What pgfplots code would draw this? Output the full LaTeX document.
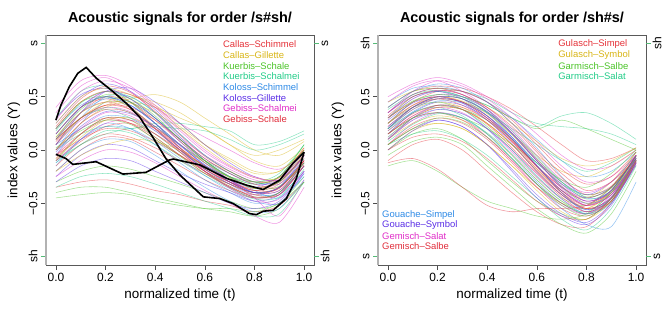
\documentclass[border=0pt]{standalone}
\usepackage{pgfplots}
\pgfplotsset{compat=1.18}
\usepackage{fontspec}
\setmainfont{Liberation Sans}
\usetikzlibrary{calc}
\definecolor{cA}{HTML}{E5333A}
\definecolor{cB}{HTML}{D8B516}
\definecolor{cC}{HTML}{4CC42A}
\definecolor{cD}{HTML}{22CC88}
\definecolor{cE}{HTML}{2E8AE6}
\definecolor{cF}{HTML}{5A2EE6}
\definecolor{cG}{HTML}{E02EC8}
\definecolor{cH}{HTML}{E02E3C}
\definecolor{tickgreen}{HTML}{55BB77}
\newcommand{\cv}[2]{\addplot[#1] coordinates {#2};}
\tikzset{leg/.style={anchor=west, font=\fontsize{9.5}{10}\selectfont, inner sep=0pt},
  ylab/.style={rotate=90, anchor=center, font=\fontsize{13.5}{14}\selectfont}}
\pgfplotsset{
  myax/.style={
    scale only axis, width=268bp, height=230bp,
    xmin=-0.04, xmax=1.04, ymin=-1.08, ymax=1.08,
    axis line style={draw=black!65, line width=0.8bp},
    tick align=outside, major tick length=5bp,
    xtick={0,0.2,0.4,0.6,0.8,1}, xticklabels={0.0,0.2,0.4,0.6,0.8,1.0},
    ytick={-0.5,0,0.5}, yticklabels={−0.5,0.0,0.5},
    tick style={black!70, line width=0.6bp},
    extra y tick style={tick style={color=tickgreen, line width=1bp}},
    ytick pos=left, xtick pos=bottom,
    ticklabel style={font=\fontsize{12}{12}\selectfont},
    yticklabel style={rotate=90, anchor=south},
    xlabel={normalized time (t)},
    label style={font=\fontsize{13.5}{14}\selectfont},
    title style={font=\bfseries\fontsize{14.5}{16}\selectfont, yshift=0bp},
    clip=false,
    every axis plot/.append style={line width=0.55bp, opacity=0.5, smooth, tension=0.5},
  }
}
\begin{document}
\begin{tikzpicture}
\path[use as bounding box] (0,0) rectangle (664bp,310bp);
% ---------------- left panel ----------------
\begin{axis}[myax, at={(46bp,45bp)}, anchor=south west,
  title={Acoustic signals for order /s\#sh/},
  extra y ticks={-1,1}, extra y tick labels={sh,s}]
\cv{cA}{(0,0.05)(0.1,0.35)(0.2,0.5)(0.3,0.45)(0.4,0.25)(0.5,0.02)(0.6,-0.18)(0.7,-0.3)(0.8,-0.38)(0.9,-0.3)(1,-0.05)}
\cv{cB}{(0,0.2)(0.1,0.45)(0.2,0.55)(0.3,0.52)(0.4,0.42)(0.5,0.25)(0.6,0.05)(0.7,-0.1)(0.8,-0.22)(0.9,-0.2)(1,0)}
\cv{cC}{(0,-0.1)(0.1,0.15)(0.2,0.3)(0.3,0.28)(0.4,0.12)(0.5,-0.05)(0.6,-0.2)(0.7,-0.32)(0.8,-0.4)(0.9,-0.35)(1,-0.1)}
\cv{cD}{(0,0.3)(0.1,0.55)(0.2,0.6)(0.3,0.45)(0.4,0.25)(0.5,0.05)(0.6,-0.1)(0.7,-0.22)(0.8,-0.3)(0.9,-0.22)(1,0.05)}
\cv{cE}{(0,-0.05)(0.1,0.25)(0.2,0.45)(0.3,0.42)(0.4,0.25)(0.5,0.02)(0.6,-0.2)(0.7,-0.35)(0.8,-0.45)(0.9,-0.4)(1,-0.15)}
\cv{cF}{(0,0.1)(0.1,0.4)(0.2,0.55)(0.3,0.48)(0.4,0.3)(0.5,0.08)(0.6,-0.12)(0.7,-0.28)(0.8,-0.35)(0.9,-0.25)(1,0)}
\cv{cG}{(0,0.35)(0.1,0.6)(0.2,0.68)(0.3,0.55)(0.4,0.35)(0.5,0.12)(0.6,-0.05)(0.7,-0.18)(0.8,-0.28)(0.9,-0.3)(1,-0.05)}
\cv{cH}{(0,-0.2)(0.1,0)(0.2,0.12)(0.3,0.1)(0.4,-0.02)(0.5,-0.15)(0.6,-0.28)(0.7,-0.38)(0.8,-0.45)(0.9,-0.4)(1,-0.15)}
\cv{cA}{(0,0.15)(0.1,0.4)(0.2,0.48)(0.3,0.4)(0.4,0.2)(0.5,-0.02)(0.6,-0.2)(0.7,-0.35)(0.8,-0.42)(0.9,-0.35)(1,-0.08)}
\cv{cB}{(0,0)(0.1,0.25)(0.2,0.4)(0.3,0.45)(0.4,0.4)(0.5,0.3)(0.6,0.2)(0.7,0.05)(0.8,-0.1)(0.9,-0.15)(1,0.02)}
\cv{cC}{(0,-0.3)(0.1,-0.2)(0.2,-0.15)(0.3,-0.18)(0.4,-0.25)(0.5,-0.32)(0.6,-0.4)(0.7,-0.48)(0.8,-0.55)(0.9,-0.5)(1,-0.25)}
\cv{cD}{(0,0.05)(0.1,0.3)(0.2,0.38)(0.3,0.3)(0.4,0.15)(0.5,-0.02)(0.6,-0.15)(0.7,-0.25)(0.8,-0.32)(0.9,-0.25)(1,0.05)}
\cv{cE}{(0,-0.15)(0.1,0.1)(0.2,0.25)(0.3,0.2)(0.4,0.05)(0.5,-0.12)(0.6,-0.28)(0.7,-0.4)(0.8,-0.5)(0.9,-0.45)(1,-0.2)}
\cv{cF}{(0,0.25)(0.1,0.5)(0.2,0.62)(0.3,0.55)(0.4,0.38)(0.5,0.15)(0.6,-0.05)(0.7,-0.2)(0.8,-0.3)(0.9,-0.32)(1,-0.1)}
\cv{cG}{(0,-0.05)(0.1,0.2)(0.2,0.35)(0.3,0.32)(0.4,0.18)(0.5,0)(0.6,-0.18)(0.7,-0.32)(0.8,-0.45)(0.9,-0.5)(1,-0.2)}
\cv{cH}{(0,0.1)(0.1,0.35)(0.2,0.45)(0.3,0.38)(0.4,0.2)(0.5,0)(0.6,-0.18)(0.7,-0.3)(0.8,-0.36)(0.9,-0.28)(1,0)}
\cv{cA}{(0,-0.35)(0.1,-0.3)(0.2,-0.28)(0.3,-0.32)(0.4,-0.38)(0.5,-0.42)(0.6,-0.48)(0.7,-0.52)(0.8,-0.58)(0.9,-0.52)(1,-0.3)}
\cv{cB}{(0,0.05)(0.1,0.3)(0.2,0.45)(0.3,0.5)(0.4,0.45)(0.5,0.35)(0.6,0.2)(0.7,0.05)(0.8,-0.05)(0.9,0)(1,0.1)}
\cv{cC}{(0,0.2)(0.1,0.45)(0.2,0.5)(0.3,0.4)(0.4,0.2)(0.5,0)(0.6,-0.15)(0.7,-0.25)(0.8,-0.3)(0.9,-0.25)(1,0)}
\cv{cD}{(0,-0.1)(0.1,0.05)(0.2,0.15)(0.3,0.2)(0.4,0.22)(0.5,0.2)(0.6,0.18)(0.7,0.1)(0.8,0)(0.9,0.05)(1,0.15)}
\cv{cE}{(0,0)(0.1,0.3)(0.2,0.5)(0.3,0.5)(0.4,0.35)(0.5,0.12)(0.6,-0.1)(0.7,-0.28)(0.8,-0.4)(0.9,-0.42)(1,-0.2)}
\cv{cF}{(0,-0.25)(0.1,-0.05)(0.2,0.05)(0.3,0.02)(0.4,-0.1)(0.5,-0.22)(0.6,-0.32)(0.7,-0.4)(0.8,-0.48)(0.9,-0.42)(1,-0.15)}
\cv{cG}{(0,0.15)(0.1,0.4)(0.2,0.55)(0.3,0.52)(0.4,0.4)(0.5,0.25)(0.6,0.12)(0.7,0)(0.8,-0.12)(0.9,-0.18)(1,-0.05)}
\cv{cH}{(0,0)(0.1,0.2)(0.2,0.3)(0.3,0.25)(0.4,0.1)(0.5,-0.05)(0.6,-0.2)(0.7,-0.32)(0.8,-0.4)(0.9,-0.35)(1,-0.12)}
\cv{cA}{(0,-0.05)(0.1,0.1)(0.2,0.2)(0.3,0.18)(0.4,0.08)(0.5,-0.05)(0.6,-0.18)(0.7,-0.3)(0.8,-0.38)(0.9,-0.36)(1,-0.1)}
\cv{cB}{(0,0.25)(0.1,0.5)(0.2,0.58)(0.3,0.52)(0.4,0.4)(0.5,0.22)(0.6,0.05)(0.7,-0.08)(0.8,-0.2)(0.9,-0.2)(1,0)}
\cv{cC}{(0,-0.4)(0.1,-0.35)(0.2,-0.35)(0.3,-0.4)(0.4,-0.45)(0.5,-0.5)(0.6,-0.55)(0.7,-0.58)(0.8,-0.62)(0.9,-0.55)(1,-0.3)}
\cv{cD}{(0,0.1)(0.1,0.3)(0.2,0.4)(0.3,0.35)(0.4,0.22)(0.5,0.05)(0.6,-0.12)(0.7,-0.25)(0.8,-0.35)(0.9,-0.3)(1,-0.05)}
\cv{cE}{(0,-0.2)(0.1,0)(0.2,0.1)(0.3,0.08)(0.4,-0.05)(0.5,-0.2)(0.6,-0.35)(0.7,-0.48)(0.8,-0.58)(0.9,-0.55)(1,-0.28)}
\cv{cF}{(0,0.05)(0.1,0.35)(0.2,0.55)(0.3,0.58)(0.4,0.45)(0.5,0.25)(0.6,0.05)(0.7,-0.12)(0.8,-0.25)(0.9,-0.28)(1,-0.05)}
\cv{cG}{(0,-0.1)(0.1,0.1)(0.2,0.25)(0.3,0.28)(0.4,0.2)(0.5,0.05)(0.6,-0.12)(0.7,-0.28)(0.8,-0.45)(0.9,-0.62)(1,-0.28)}
\cv{cH}{(0,0.2)(0.1,0.45)(0.2,0.55)(0.3,0.45)(0.4,0.28)(0.5,0.08)(0.6,-0.1)(0.7,-0.25)(0.8,-0.35)(0.9,-0.3)(1,-0.05)}
\cv{cA}{(0,-0.15)(0.1,0.05)(0.2,0.15)(0.3,0.12)(0.4,0.02)(0.5,-0.1)(0.6,-0.22)(0.7,-0.32)(0.8,-0.4)(0.9,-0.38)(1,-0.12)}
\cv{cB}{(0,0.1)(0.1,0.3)(0.2,0.42)(0.3,0.48)(0.4,0.52)(0.5,0.45)(0.6,0.3)(0.7,0.15)(0.8,0)(0.9,-0.05)(1,0.08)}
\cv{cC}{(0,-0.45)(0.1,-0.42)(0.2,-0.4)(0.3,-0.42)(0.4,-0.48)(0.5,-0.52)(0.6,-0.55)(0.7,-0.55)(0.8,-0.58)(0.9,-0.5)(1,-0.3)}
\cv{cD}{(0,0)(0.1,0.15)(0.2,0.22)(0.3,0.2)(0.4,0.25)(0.5,0.25)(0.6,0.22)(0.7,0.18)(0.8,0.05)(0.9,0.08)(1,0.18)}
\cv{cE}{(0,0.1)(0.1,0.35)(0.2,0.48)(0.3,0.45)(0.4,0.3)(0.5,0.1)(0.6,-0.1)(0.7,-0.25)(0.8,-0.38)(0.9,-0.45)(1,-0.25)}
\cv{cF}{(0,-0.3)(0.1,-0.15)(0.2,-0.08)(0.3,-0.1)(0.4,-0.2)(0.5,-0.3)(0.6,-0.4)(0.7,-0.5)(0.8,-0.55)(0.9,-0.48)(1,-0.22)}
\cv{cG}{(0,0.4)(0.1,0.65)(0.2,0.7)(0.3,0.6)(0.4,0.42)(0.5,0.2)(0.6,0)(0.7,-0.15)(0.8,-0.25)(0.9,-0.28)(1,-0.05)}
\cv{cH}{(0,-0.05)(0.1,0.15)(0.2,0.28)(0.3,0.25)(0.4,0.12)(0.5,-0.05)(0.6,-0.22)(0.7,-0.35)(0.8,-0.45)(0.9,-0.4)(1,-0.1)}
\cv{cA}{(0,0)(0.1,0.25)(0.2,0.38)(0.3,0.35)(0.4,0.2)(0.5,0.02)(0.6,-0.15)(0.7,-0.28)(0.8,-0.38)(0.9,-0.32)(1,-0.05)}
\cv{cB}{(0,-0.2)(0.1,-0.05)(0.2,0.05)(0.3,0.1)(0.4,0.08)(0.5,0)(0.6,-0.1)(0.7,-0.2)(0.8,-0.3)(0.9,-0.28)(1,-0.08)}
\cv{cC}{(0,0.15)(0.1,0.4)(0.2,0.5)(0.3,0.45)(0.4,0.3)(0.5,0.1)(0.6,-0.1)(0.7,-0.25)(0.8,-0.32)(0.9,-0.25)(1,0.05)}
\cv{cD}{(0,-0.35)(0.1,-0.25)(0.2,-0.22)(0.3,-0.25)(0.4,-0.32)(0.5,-0.4)(0.6,-0.48)(0.7,-0.55)(0.8,-0.62)(0.9,-0.6)(1,-0.3)}
\cv{cE}{(0,0.05)(0.1,0.2)(0.2,0.32)(0.3,0.3)(0.4,0.18)(0.5,0)(0.6,-0.18)(0.7,-0.32)(0.8,-0.42)(0.9,-0.4)(1,-0.15)}
\cv{cF}{(0,0.3)(0.1,0.52)(0.2,0.58)(0.3,0.48)(0.4,0.3)(0.5,0.1)(0.6,-0.08)(0.7,-0.22)(0.8,-0.32)(0.9,-0.28)(1,-0.02)}
\cv{cG}{(0,-0.25)(0.1,-0.1)(0.2,0)(0.3,-0.02)(0.4,-0.12)(0.5,-0.25)(0.6,-0.38)(0.7,-0.5)(0.8,-0.62)(0.9,-0.68)(1,-0.35)}
\cv{cH}{(0,0.1)(0.1,0.3)(0.2,0.42)(0.3,0.4)(0.4,0.28)(0.5,0.1)(0.6,-0.08)(0.7,-0.22)(0.8,-0.32)(0.9,-0.35)(1,-0.1)}
\cv{cA}{(0,0.08)(0.1,0.3)(0.2,0.42)(0.3,0.38)(0.4,0.22)(0.5,0.02)(0.6,-0.16)(0.7,-0.3)(0.8,-0.4)(0.9,-0.36)(1,-0.1)}
\cv{cB}{(0,-0.08)(0.1,0.12)(0.2,0.28)(0.3,0.3)(0.4,0.2)(0.5,0.05)(0.6,-0.12)(0.7,-0.26)(0.8,-0.36)(0.9,-0.3)(1,-0.05)}
\cv{cC}{(0,0.12)(0.1,0.38)(0.2,0.52)(0.3,0.48)(0.4,0.32)(0.5,0.1)(0.6,-0.1)(0.7,-0.26)(0.8,-0.36)(0.9,-0.34)(1,-0.12)}
\cv{cD}{(0,-0.12)(0.1,0.05)(0.2,0.18)(0.3,0.16)(0.4,0.05)(0.5,-0.1)(0.6,-0.24)(0.7,-0.36)(0.8,-0.46)(0.9,-0.44)(1,-0.18)}
\cv{cE}{(0,0.2)(0.1,0.42)(0.2,0.5)(0.3,0.42)(0.4,0.25)(0.5,0.05)(0.6,-0.14)(0.7,-0.3)(0.8,-0.4)(0.9,-0.35)(1,-0.08)}
\cv{cF}{(0,-0.02)(0.1,0.22)(0.2,0.36)(0.3,0.34)(0.4,0.22)(0.5,0.04)(0.6,-0.14)(0.7,-0.28)(0.8,-0.4)(0.9,-0.38)(1,-0.12)}
\cv{cG}{(0,0.05)(0.1,0.28)(0.2,0.4)(0.3,0.36)(0.4,0.2)(0.5,0)(0.6,-0.2)(0.7,-0.36)(0.8,-0.48)(0.9,-0.46)(1,-0.2)}
\cv{cH}{(0,0.22)(0.1,0.48)(0.2,0.6)(0.3,0.54)(0.4,0.36)(0.5,0.14)(0.6,-0.06)(0.7,-0.2)(0.8,-0.3)(0.9,-0.26)(1,0.02)}
\cv{cA}{(0,-0.1)(0.1,0.08)(0.2,0.22)(0.3,0.25)(0.4,0.15)(0.5,0)(0.6,-0.15)(0.7,-0.3)(0.8,-0.42)(0.9,-0.42)(1,-0.15)}
\cv{cB}{(0,0.12)(0.1,0.35)(0.2,0.45)(0.3,0.44)(0.4,0.35)(0.5,0.2)(0.6,0.02)(0.7,-0.14)(0.8,-0.26)(0.9,-0.26)(1,-0.04)}
\cv{cC}{(0,0.02)(0.1,0.18)(0.2,0.28)(0.3,0.24)(0.4,0.1)(0.5,-0.06)(0.6,-0.22)(0.7,-0.34)(0.8,-0.44)(0.9,-0.4)(1,-0.12)}
\cv{cD}{(0,0.18)(0.1,0.44)(0.2,0.55)(0.3,0.5)(0.4,0.35)(0.5,0.15)(0.6,-0.05)(0.7,-0.2)(0.8,-0.3)(0.9,-0.3)(1,-0.05)}
\cv{cE}{(0,-0.12)(0.1,0.1)(0.2,0.22)(0.3,0.2)(0.4,0.08)(0.5,-0.08)(0.6,-0.24)(0.7,-0.38)(0.8,-0.48)(0.9,-0.5)(1,-0.22)}
\cv{cF}{(0,0.15)(0.1,0.4)(0.2,0.5)(0.3,0.42)(0.4,0.25)(0.5,0.05)(0.6,-0.15)(0.7,-0.3)(0.8,-0.4)(0.9,-0.35)(1,-0.05)}
\cv{cG}{(0,0.28)(0.1,0.55)(0.2,0.65)(0.3,0.58)(0.4,0.4)(0.5,0.18)(0.6,-0.02)(0.7,-0.16)(0.8,-0.26)(0.9,-0.28)(1,-0.06)}
\cv{cH}{(0,-0.08)(0.1,0.15)(0.2,0.3)(0.3,0.28)(0.4,0.15)(0.5,-0.02)(0.6,-0.2)(0.7,-0.34)(0.8,-0.44)(0.9,-0.42)(1,-0.14)}
\addplot[black, line width=1.6bp, opacity=1, sharp plot] coordinates {(0,0.28)(0.02,0.42)(0.054,0.594)(0.088,0.72)(0.122,0.776)(0.162,0.676)(0.229,0.55)(0.283,0.44)(0.336,0.314)(0.389,0.126)(0.443,-0.08)(0.5,-0.236)(0.594,-0.44)(0.66,-0.456)(0.714,-0.503)(0.78,-0.597)(0.808,-0.607)(0.835,-0.575)(0.875,-0.566)(0.929,-0.456)(0.969,-0.267)(1,-0.02)};
\addplot[black, line width=1.6bp, opacity=1, sharp plot] coordinates {(0,-0.04)(0.04,-0.08)(0.068,-0.135)(0.162,-0.11)(0.27,-0.226)(0.363,-0.21)(0.457,-0.094)(0.473,-0.085)(0.58,-0.14)(0.688,-0.267)(0.768,-0.33)(0.835,-0.371)(0.902,-0.283)(0.955,-0.126)(1,-0.02)};
\draw[gray!60, line width=1.6bp] (rel axis cs:0,0) -- (rel axis cs:0,1);
\draw[tickgreen, line width=1bp] (axis cs:1.04,1) -- ++(5bp,0bp);
\draw[tickgreen, line width=1bp] (axis cs:1.04,-1) -- ++(5bp,0bp);
\node[rotate=90, font=\fontsize{12}{12}\selectfont] at ($(axis cs:1.04,1)+(11bp,0bp)$) {s};
\node[rotate=90, font=\fontsize{12}{12}\selectfont] at ($(axis cs:1.04,-1)+(11bp,0bp)$) {sh};
\node[leg, text=cA] at (axis cs:0.673,0.992) {Callas–Schimmel};
\node[leg, text=cB] at (axis cs:0.673,0.892) {Callas–Gillette};
\node[leg, text=cC] at (axis cs:0.673,0.791) {Kuerbis–Schale};
\node[leg, text=cD] at (axis cs:0.673,0.691) {Kuerbis–Schalmei};
\node[leg, text=cE] at (axis cs:0.673,0.590) {Koloss–Schimmel};
\node[leg, text=cF] at (axis cs:0.673,0.490) {Koloss–Gillette};
\node[leg, text=cG] at (axis cs:0.673,0.389) {Gebiss–Schalmei};
\node[leg, text=cH] at (axis cs:0.673,0.289) {Gebiss–Schale};
\end{axis}
% ---------------- right panel ----------------
\begin{axis}[myax, at={(378bp,45bp)}, anchor=south west,
  title={Acoustic signals for order /sh\#s/}, ylabel={index values (Y)},
  extra y ticks={-1,1}, extra y tick labels={s,sh}]
\cv{cA}{(0,0.2)(0.1,0.4)(0.2,0.5)(0.3,0.45)(0.4,0.3)(0.5,0.1)(0.6,-0.15)(0.7,-0.35)(0.8,-0.45)(0.9,-0.35)(1,-0.05)}
\cv{cB}{(0,0.3)(0.1,0.45)(0.2,0.5)(0.3,0.48)(0.4,0.35)(0.5,0.15)(0.6,-0.05)(0.7,-0.2)(0.8,-0.25)(0.9,-0.15)(1,0)}
\cv{cC}{(0,0)(0.1,0.15)(0.2,0.2)(0.3,0.1)(0.4,-0.1)(0.5,-0.3)(0.6,-0.48)(0.7,-0.6)(0.8,-0.65)(0.9,-0.45)(1,-0.1)}
\cv{cD}{(0,0.4)(0.1,0.55)(0.2,0.58)(0.3,0.55)(0.4,0.48)(0.5,0.35)(0.6,0.25)(0.7,0.22)(0.8,0.2)(0.9,0.15)(1,0.05)}
\cv{cE}{(0,0.1)(0.1,0.3)(0.2,0.42)(0.3,0.38)(0.4,0.2)(0.5,-0.05)(0.6,-0.3)(0.7,-0.5)(0.8,-0.6)(0.9,-0.45)(1,-0.1)}
\cv{cF}{(0,0.35)(0.1,0.52)(0.2,0.58)(0.3,0.52)(0.4,0.38)(0.5,0.15)(0.6,-0.1)(0.7,-0.3)(0.8,-0.42)(0.9,-0.3)(1,-0.05)}
\cv{cG}{(0,0.05)(0.1,0.25)(0.2,0.35)(0.3,0.3)(0.4,0.12)(0.5,-0.1)(0.6,-0.35)(0.7,-0.52)(0.8,-0.6)(0.9,-0.42)(1,-0.08)}
\cv{cH}{(0,0.25)(0.1,0.45)(0.2,0.55)(0.3,0.55)(0.4,0.45)(0.5,0.25)(0.6,0)(0.7,-0.22)(0.8,-0.38)(0.9,-0.3)(1,-0.08)}
\cv{cA}{(0,-0.1)(0.1,0.05)(0.2,0.1)(0.3,0)(0.4,-0.2)(0.5,-0.4)(0.6,-0.58)(0.7,-0.7)(0.8,-0.72)(0.9,-0.5)(1,-0.12)}
\cv{cB}{(0,0.2)(0.1,0.38)(0.2,0.45)(0.3,0.4)(0.4,0.25)(0.5,0.05)(0.6,-0.18)(0.7,-0.38)(0.8,-0.45)(0.9,-0.3)(1,-0.02)}
\cv{cC}{(0,0.3)(0.1,0.5)(0.2,0.55)(0.3,0.5)(0.4,0.42)(0.5,0.3)(0.6,0.2)(0.7,0.28)(0.8,0.2)(0.9,0.1)(1,0)}
\cv{cD}{(0,0.15)(0.1,0.35)(0.2,0.4)(0.3,0.32)(0.4,0.15)(0.5,-0.08)(0.6,-0.32)(0.7,-0.5)(0.8,-0.58)(0.9,-0.4)(1,-0.05)}
\cv{cE}{(0,0.45)(0.1,0.58)(0.2,0.6)(0.3,0.55)(0.4,0.45)(0.5,0.3)(0.6,0.1)(0.7,-0.1)(0.8,-0.25)(0.9,-0.2)(1,-0.02)}
\cv{cF}{(0,0.05)(0.1,0.2)(0.2,0.28)(0.3,0.22)(0.4,0.05)(0.5,-0.18)(0.6,-0.42)(0.7,-0.6)(0.8,-0.68)(0.9,-0.5)(1,-0.12)}
\cv{cG}{(0,0.35)(0.1,0.55)(0.2,0.65)(0.3,0.6)(0.4,0.48)(0.5,0.3)(0.6,0.08)(0.7,-0.15)(0.8,-0.3)(0.9,-0.25)(1,-0.05)}
\cv{cH}{(0,0.1)(0.1,0.3)(0.2,0.4)(0.3,0.38)(0.4,0.25)(0.5,0.05)(0.6,-0.2)(0.7,-0.42)(0.8,-0.55)(0.9,-0.45)(1,-0.1)}
\cv{cA}{(0,0.25)(0.1,0.42)(0.2,0.48)(0.3,0.42)(0.4,0.28)(0.5,0.08)(0.6,-0.15)(0.7,-0.35)(0.8,-0.48)(0.9,-0.4)(1,-0.1)}
\cv{cB}{(0,0)(0.1,0.18)(0.2,0.25)(0.3,0.2)(0.4,0.05)(0.5,-0.15)(0.6,-0.35)(0.7,-0.5)(0.8,-0.55)(0.9,-0.38)(1,-0.05)}
\cv{cC}{(0,-0.15)(0.1,-0.1)(0.2,-0.2)(0.3,-0.35)(0.4,-0.48)(0.5,-0.55)(0.6,-0.62)(0.7,-0.65)(0.8,-0.6)(0.9,-0.4)(1,-0.1)}
\cv{cD}{(0,0.2)(0.1,0.4)(0.2,0.48)(0.3,0.45)(0.4,0.35)(0.5,0.2)(0.6,0.05)(0.7,-0.1)(0.8,-0.2)(0.9,-0.12)(1,0.02)}
\cv{cE}{(0,0.3)(0.1,0.48)(0.2,0.55)(0.3,0.5)(0.4,0.35)(0.5,0.12)(0.6,-0.15)(0.7,-0.4)(0.8,-0.58)(0.9,-0.45)(1,-0.1)}
\cv{cF}{(0,0.15)(0.1,0.35)(0.2,0.45)(0.3,0.42)(0.4,0.3)(0.5,0.1)(0.6,-0.15)(0.7,-0.38)(0.8,-0.52)(0.9,-0.4)(1,-0.08)}
\cv{cG}{(0,0.45)(0.1,0.6)(0.2,0.65)(0.3,0.55)(0.4,0.4)(0.5,0.2)(0.6,-0.05)(0.7,-0.28)(0.8,-0.4)(0.9,-0.3)(1,-0.05)}
\cv{cH}{(0,0.05)(0.1,0.22)(0.2,0.3)(0.3,0.25)(0.4,0.1)(0.5,-0.12)(0.6,-0.35)(0.7,-0.55)(0.8,-0.62)(0.9,-0.48)(1,-0.12)}
\cv{cA}{(0,0.4)(0.1,0.55)(0.2,0.6)(0.3,0.58)(0.4,0.5)(0.5,0.38)(0.6,0.22)(0.7,0.05)(0.8,-0.1)(0.9,-0.08)(1,0.02)}
\cv{cB}{(0,0.1)(0.1,0.25)(0.2,0.32)(0.3,0.28)(0.4,0.15)(0.5,-0.05)(0.6,-0.28)(0.7,-0.48)(0.8,-0.55)(0.9,-0.4)(1,-0.08)}
\cv{cC}{(0,0.25)(0.1,0.4)(0.2,0.45)(0.3,0.38)(0.4,0.22)(0.5,0)(0.6,-0.25)(0.7,-0.45)(0.8,-0.52)(0.9,-0.35)(1,-0.02)}
\cv{cD}{(0,0.05)(0.1,0.15)(0.2,0.18)(0.3,0.1)(0.4,-0.05)(0.5,-0.25)(0.6,-0.45)(0.7,-0.65)(0.8,-0.75)(0.9,-0.55)(1,-0.15)}
\cv{cE}{(0,0.2)(0.1,0.4)(0.2,0.5)(0.3,0.48)(0.4,0.35)(0.5,0.15)(0.6,-0.1)(0.7,-0.35)(0.8,-0.5)(0.9,-0.42)(1,-0.1)}
\cv{cF}{(0,0.35)(0.1,0.5)(0.2,0.55)(0.3,0.48)(0.4,0.32)(0.5,0.1)(0.6,-0.15)(0.7,-0.38)(0.8,-0.5)(0.9,-0.38)(1,-0.05)}
\cv{cG}{(0,0.15)(0.1,0.32)(0.2,0.4)(0.3,0.35)(0.4,0.2)(0.5,0)(0.6,-0.22)(0.7,-0.42)(0.8,-0.55)(0.9,-0.45)(1,-0.12)}
\cv{cH}{(0,0.3)(0.1,0.45)(0.2,0.5)(0.3,0.45)(0.4,0.3)(0.5,0.08)(0.6,-0.18)(0.7,-0.4)(0.8,-0.52)(0.9,-0.38)(1,-0.05)}
\cv{cA}{(0,0)(0.1,0.12)(0.2,0.15)(0.3,0.08)(0.4,-0.08)(0.5,-0.28)(0.6,-0.48)(0.7,-0.62)(0.8,-0.65)(0.9,-0.45)(1,-0.1)}
\cv{cB}{(0,0.45)(0.1,0.55)(0.2,0.58)(0.3,0.52)(0.4,0.4)(0.5,0.25)(0.6,0.08)(0.7,-0.08)(0.8,-0.15)(0.9,-0.1)(1,0.02)}
\cv{cC}{(0,-0.05)(0.1,0.08)(0.2,0.12)(0.3,0.05)(0.4,-0.15)(0.5,-0.35)(0.6,-0.55)(0.7,-0.7)(0.8,-0.78)(0.9,-0.6)(1,-0.2)}
\cv{cD}{(0,0.25)(0.1,0.45)(0.2,0.52)(0.3,0.5)(0.4,0.42)(0.5,0.3)(0.6,0.22)(0.7,0.32)(0.8,0.35)(0.9,0.25)(1,0.1)}
\cv{cE}{(0,0.1)(0.1,0.28)(0.2,0.35)(0.3,0.3)(0.4,0.15)(0.5,-0.08)(0.6,-0.32)(0.7,-0.55)(0.8,-0.7)(0.9,-0.72)(1,-0.3)}
\cv{cF}{(0,0.2)(0.1,0.38)(0.2,0.48)(0.3,0.45)(0.4,0.32)(0.5,0.12)(0.6,-0.12)(0.7,-0.32)(0.8,-0.45)(0.9,-0.35)(1,-0.08)}
\cv{cG}{(0,0.5)(0.1,0.62)(0.2,0.68)(0.3,0.62)(0.4,0.5)(0.5,0.35)(0.6,0.15)(0.7,-0.05)(0.8,-0.18)(0.9,-0.15)(1,0)}
\cv{cH}{(0,0.15)(0.1,0.3)(0.2,0.35)(0.3,0.28)(0.4,0.12)(0.5,-0.1)(0.6,-0.32)(0.7,-0.5)(0.8,-0.6)(0.9,-0.48)(1,-0.12)}
\cv{cA}{(0,0.35)(0.1,0.52)(0.2,0.58)(0.3,0.55)(0.4,0.45)(0.5,0.28)(0.6,0.05)(0.7,-0.18)(0.8,-0.32)(0.9,-0.25)(1,-0.02)}
\cv{cB}{(0,0.05)(0.1,0.2)(0.2,0.25)(0.3,0.2)(0.4,0.05)(0.5,-0.15)(0.6,-0.38)(0.7,-0.58)(0.8,-0.65)(0.9,-0.48)(1,-0.1)}
\cv{cC}{(0,0.15)(0.1,0.3)(0.2,0.35)(0.3,0.3)(0.4,0.2)(0.5,0.05)(0.6,-0.12)(0.7,-0.28)(0.8,-0.35)(0.9,-0.22)(1,0)}
\cv{cD}{(0,0.2)(0.1,0.35)(0.2,0.42)(0.3,0.38)(0.4,0.28)(0.5,0.1)(0.6,-0.12)(0.7,-0.32)(0.8,-0.42)(0.9,-0.35)(1,-0.08)}
\cv{cE}{(0,0.4)(0.1,0.55)(0.2,0.62)(0.3,0.58)(0.4,0.45)(0.5,0.25)(0.6,0.02)(0.7,-0.25)(0.8,-0.45)(0.9,-0.4)(1,-0.1)}
\cv{cF}{(0,0)(0.1,0.18)(0.2,0.28)(0.3,0.22)(0.4,0.05)(0.5,-0.2)(0.6,-0.45)(0.7,-0.62)(0.8,-0.7)(0.9,-0.52)(1,-0.12)}
\cv{cG}{(0,0.25)(0.1,0.42)(0.2,0.52)(0.3,0.5)(0.4,0.38)(0.5,0.18)(0.6,-0.08)(0.7,-0.32)(0.8,-0.48)(0.9,-0.38)(1,-0.05)}
\cv{cH}{(0,-0.12)(0.1,-0.08)(0.2,-0.18)(0.3,-0.35)(0.4,-0.52)(0.5,-0.58)(0.6,-0.55)(0.7,-0.55)(0.8,-0.52)(0.9,-0.35)(1,-0.08)}
\cv{cA}{(0,0.22)(0.1,0.4)(0.2,0.48)(0.3,0.45)(0.4,0.32)(0.5,0.1)(0.6,-0.15)(0.7,-0.38)(0.8,-0.52)(0.9,-0.42)(1,-0.1)}
\cv{cB}{(0,0.12)(0.1,0.3)(0.2,0.4)(0.3,0.38)(0.4,0.25)(0.5,0.05)(0.6,-0.2)(0.7,-0.42)(0.8,-0.55)(0.9,-0.45)(1,-0.1)}
\cv{cC}{(0,0.3)(0.1,0.46)(0.2,0.52)(0.3,0.48)(0.4,0.36)(0.5,0.16)(0.6,-0.08)(0.7,-0.3)(0.8,-0.44)(0.9,-0.36)(1,-0.06)}
\cv{cD}{(0,0.08)(0.1,0.24)(0.2,0.34)(0.3,0.3)(0.4,0.16)(0.5,-0.04)(0.6,-0.28)(0.7,-0.48)(0.8,-0.6)(0.9,-0.46)(1,-0.1)}
\cv{cE}{(0,0.18)(0.1,0.36)(0.2,0.46)(0.3,0.44)(0.4,0.32)(0.5,0.12)(0.6,-0.14)(0.7,-0.4)(0.8,-0.56)(0.9,-0.46)(1,-0.12)}
\cv{cF}{(0,0.28)(0.1,0.44)(0.2,0.5)(0.3,0.44)(0.4,0.28)(0.5,0.06)(0.6,-0.2)(0.7,-0.42)(0.8,-0.56)(0.9,-0.44)(1,-0.08)}
\cv{cG}{(0,0.1)(0.1,0.28)(0.2,0.38)(0.3,0.34)(0.4,0.2)(0.5,-0.02)(0.6,-0.26)(0.7,-0.46)(0.8,-0.58)(0.9,-0.48)(1,-0.12)}
\cv{cH}{(0,0.32)(0.1,0.5)(0.2,0.56)(0.3,0.52)(0.4,0.4)(0.5,0.22)(0.6,-0.02)(0.7,-0.26)(0.8,-0.42)(0.9,-0.34)(1,-0.06)}
\cv{cA}{(0,0.15)(0.1,0.32)(0.2,0.42)(0.3,0.4)(0.4,0.28)(0.5,0.08)(0.6,-0.16)(0.7,-0.4)(0.8,-0.55)(0.9,-0.48)(1,-0.14)}
\cv{cB}{(0,0.25)(0.1,0.42)(0.2,0.5)(0.3,0.46)(0.4,0.34)(0.5,0.14)(0.6,-0.1)(0.7,-0.34)(0.8,-0.5)(0.9,-0.4)(1,-0.06)}
\cv{cC}{(0,0.05)(0.1,0.2)(0.2,0.3)(0.3,0.26)(0.4,0.12)(0.5,-0.08)(0.6,-0.32)(0.7,-0.52)(0.8,-0.62)(0.9,-0.48)(1,-0.1)}
\cv{cD}{(0,0.38)(0.1,0.52)(0.2,0.56)(0.3,0.5)(0.4,0.38)(0.5,0.18)(0.6,-0.06)(0.7,-0.3)(0.8,-0.46)(0.9,-0.38)(1,-0.06)}
\cv{cE}{(0,0.12)(0.1,0.3)(0.2,0.38)(0.3,0.34)(0.4,0.2)(0.5,0)(0.6,-0.24)(0.7,-0.46)(0.8,-0.6)(0.9,-0.5)(1,-0.14)}
\cv{cF}{(0,0.22)(0.1,0.4)(0.2,0.5)(0.3,0.48)(0.4,0.36)(0.5,0.16)(0.6,-0.1)(0.7,-0.34)(0.8,-0.48)(0.9,-0.38)(1,-0.06)}
\cv{cG}{(0,0.3)(0.1,0.48)(0.2,0.56)(0.3,0.52)(0.4,0.38)(0.5,0.16)(0.6,-0.1)(0.7,-0.36)(0.8,-0.52)(0.9,-0.42)(1,-0.1)}
\cv{cH}{(0,0.18)(0.1,0.34)(0.2,0.42)(0.3,0.38)(0.4,0.24)(0.5,0.02)(0.6,-0.22)(0.7,-0.44)(0.8,-0.58)(0.9,-0.46)(1,-0.1)}
\draw[gray!60, line width=1.6bp] (rel axis cs:0,0) -- (rel axis cs:0,1);
\draw[tickgreen, line width=1bp] (axis cs:1.04,1) -- ++(5bp,0bp);
\draw[tickgreen, line width=1bp] (axis cs:1.04,-1) -- ++(5bp,0bp);
\node[rotate=90, font=\fontsize{12}{12}\selectfont] at ($(axis cs:1.04,1)+(11bp,0bp)$) {sh};
\node[rotate=90, font=\fontsize{12}{12}\selectfont] at ($(axis cs:1.04,-1)+(11bp,0bp)$) {s};
\node[leg, text=cA] at (axis cs:0.686,0.992) {Gulasch–Simpel};
\node[leg, text=cB] at (axis cs:0.686,0.892) {Gulasch–Symbol};
\node[leg, text=cC] at (axis cs:0.686,0.791) {Garmisch–Salbe};
\node[leg, text=cD] at (axis cs:0.686,0.691) {Garmisch–Salat};
\node[leg, text=cE] at (axis cs:-0.024,-0.610) {Gouache–Simpel};
\node[leg, text=cF] at (axis cs:-0.024,-0.707) {Gouache–Symbol};
\node[leg, text=cG] at (axis cs:-0.024,-0.805) {Gemisch–Salat};
\node[leg, text=cH] at (axis cs:-0.024,-0.904) {Gemisch–Salbe};
\end{axis}
\node[ylab] at (14bp,160bp) {index values (Y)};
\end{tikzpicture}
\end{document}
